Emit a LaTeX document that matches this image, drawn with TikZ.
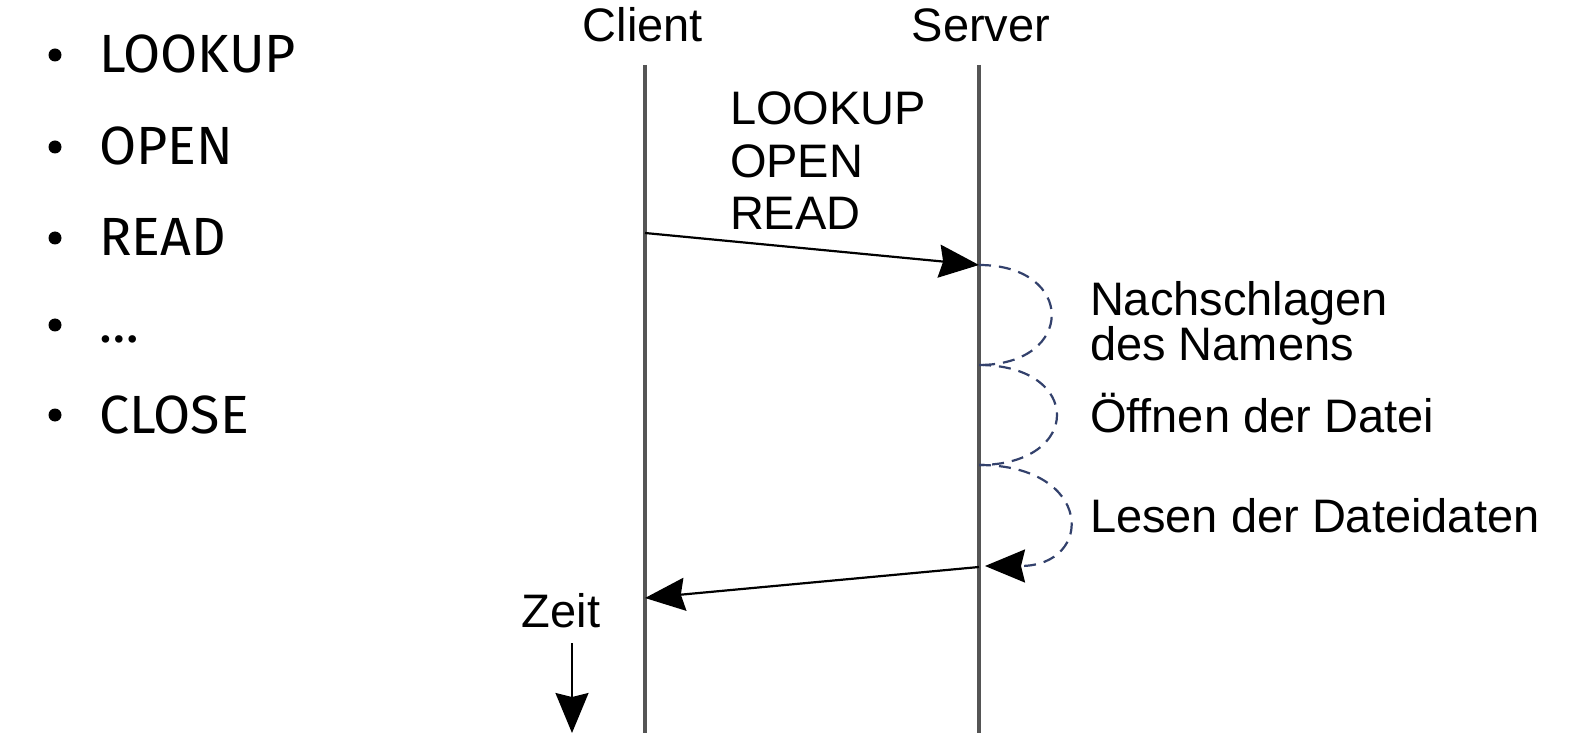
\documentclass[tikz,border=0pt]{standalone}
\usepackage{fontspec}
\setmainfont{Liberation Sans}
\newfontfamily\listfont{Fira Sans}
\usetikzlibrary{arrows.meta}
\usetikzlibrary{positioning}
\definecolor{lifegray}{HTML}{555555}
\definecolor{loopblue}{HTML}{33416C}
\tikzset{
    bigtip/.tip={Stealth[length=20pt,width=16.5pt,inset=2pt]}
}

\begin{document}
\begin{tikzpicture}[
        x=0.5pt, y=-0.5pt,
        every node/.style={inner sep=0pt, outer sep=0pt},
        label/.style={font=\fontsize{23.5}{26.25}\selectfont},
        note/.style={font=\fontsize{23.5}{22.5}\selectfont, anchor=base west, align=left},
        item/.style={font=\listfont\fontsize{26.9}{30}\selectfont, anchor=base west},
        dot/.style={circle, fill=black, minimum size=6.5pt},
        lifeline/.style={draw=lifegray, line width=1.6pt},
        call/.style={line width=1.1pt, -bigtip},
        work/.style={draw=loopblue, line width=1.1pt, dash pattern=on 6pt off 4pt},
    ]
    \useasboundingbox (0,0) rectangle (1575,754);

    % list of calls
    \foreach \name/\txt/\y in {lookup/LOOKUP/73, open/OPEN/165, read/READ/256, more/\ldots/343, close/CLOSE/433} {
        \node[item] (\name) at (99,\y) {\txt};
        \node[dot]  (\name-dot) at (55,\y-18) {};
    }

    % lifelines
    \node[label, anchor=base] (client) at (643,42) {Client};
    \node[label, anchor=base] (server) at (981,42) {Server};

    \coordinate (ctop) at (645,65);
    \coordinate (cbot) at (645,733);
    \coordinate (stop) at (979,65);
    \coordinate (sbot) at (979,733);

    \draw[lifeline] (ctop) -- (cbot);
    \draw[lifeline] (stop) -- (sbot);

    % request and reply
    \node[label, anchor=base west, align=left] (req) at (730,230) {LOOKUP\\OPEN\\READ};

    \coordinate (c1) at (645,233);
    \coordinate (s1) at (979,265);
    \coordinate (s2) at (979,365);
    \coordinate (s3) at (979,465);
    \coordinate (s4) at (985,566);
    \coordinate (s5) at (979,567);
    \coordinate (c2) at (645,598);

    \draw[call] (c1) -- (s1);
    \draw[call] (s5) -- (c2);

    % server work
    \draw[work] (s1) .. controls +(97,0) and +(97,0) .. (s2);
    \draw[work] (s2) .. controls +(104,0) and +(104,0) .. (s3);
    \draw[work, -{Stealth[length=20pt,width=16.5pt,inset=2pt,color=black]}] (s3) .. controls +(115,0) and +(110,0) .. (s4);

    \node[note] (lookupnote) at (1090,360) {Nachschlagen\\des Namens};
    \node[note] (opennote)   at (1090,432) {Öffnen der Datei};
    \node[note] (readnote)   at (1090,532) {Lesen der Dateidaten};

    % time axis
    \node[label, anchor=base] (zeit) at (561,627) {Zeit};
    \coordinate (tstart) at (572,643);
    \coordinate (tend)   at (572,733);
    \draw[line width=0.9pt, -bigtip] (tstart) -- (tend);

\end{tikzpicture}
\end{document}
